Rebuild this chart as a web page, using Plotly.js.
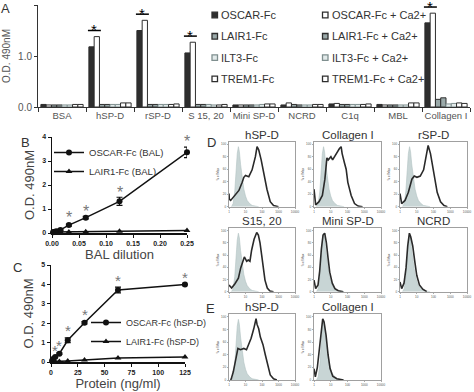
<!DOCTYPE html>
<html><head><meta charset="utf-8">
<script src="https://cdn.plot.ly/plotly-3.0.1.min.js"></script>
<style>html,body{margin:0;padding:0;background:#fff}#plot{width:474px;height:392px}</style>
</head><body><div id="plot"></div>
<script>
// ---------------- Panel A data ----------------
const categories = ['BSA','hSP-D','rSP-D','S 15, 20','Mini SP-D','NCRD','C1q','MBL','Collagen I'];
const oscarFc   = [0.05, 1.18, 1.50, 1.06, 0.04, 0.04, 0.06, 0.05, 1.65];
const oscarFcCa = [0.04, 1.38, 1.70, 1.27, 0.04, 0.08, 0.07, 0.04, 1.84];
const lair1Fc   = [0.04, 0.05, 0.05, 0.05, 0.04, 0.05, 0.05, 0.04, 0.15];
const lair1FcCa = [0.04, 0.05, 0.05, 0.05, 0.04, 0.04, 0.05, 0.04, 0.18];
const ilt3Fc    = [0.04, 0.05, 0.05, 0.05, 0.04, 0.04, 0.05, 0.04, 0.06];
const ilt3FcCa  = [0.04, 0.05, 0.05, 0.04, 0.05, 0.04, 0.05, 0.04, 0.07];
const trem1Fc   = [0.05, 0.08, 0.05, 0.04, 0.06, 0.05, 0.05, 0.08, 0.08];
const trem1FcCa = [0.05, 0.08, 0.06, 0.05, 0.06, 0.05, 0.06, 0.08, 0.07];
const seriesNames = ['OSCAR-Fc','OSCAR-Fc + Ca2+','LAIR1-Fc','LAIR1-Fc + Ca2+','ILT3-Fc','ILT3-Fc + Ca2+','TREM1-Fc','TREM1-Fc + Ca2+'];
const seriesValues = [oscarFc, oscarFcCa, lair1Fc, lair1FcCa, ilt3Fc, ilt3FcCa, trem1Fc, trem1FcCa];
const sigCategories = ['hSP-D','rSP-D','S 15, 20','Collagen I'];

// ---------------- Panel B data ----------------
const balDilution = [0.00195, 0.0039, 0.0078, 0.0156, 0.03125, 0.0625, 0.125, 0.25];
const oscarBal    = [0.03, 0.04, 0.07, 0.13, 0.33, 0.64, 1.32, 3.36];
const oscarBalErr = [0.02, 0.02, 0.02, 0.03, 0.04, 0.05, 0.17, 0.22];
const lair1Bal    = [0.04, 0.04, 0.04, 0.04, 0.04, 0.05, 0.07, 0.10];
const balSigX = [0.03125, 0.0625, 0.125, 0.25];
const balSigY = [0.81, 1.08, 1.85, 3.97];

// ---------------- Panel C data ----------------
const protein      = [0.98, 1.95, 3.9, 7.8, 15.6, 31.25, 62.5, 125];
const oscarHspd    = [0.07, 0.15, 0.26, 0.43, 1.12, 2.02, 3.71, 4.00];
const oscarHspdErr = [0.02, 0.02, 0.03, 0.04, 0.12, 0.06, 0.15, 0.06];
const lair1Hspd    = [0.02, 0.02, 0.02, 0.03, 0.05, 0.10, 0.20, 0.26];
const protSigX = [3.9, 7.8, 15.6, 31.25, 62.5, 125];
const protSigY = [0.78, 1.07, 1.81, 2.68, 4.40, 4.58];

// ---------------- Panels D/E data (log10 fluorescence, % of max) ----------------
const histTitles = ['hSP-D','Collagen I','rSP-D','S15, 20','Mini SP-D','NCRD','hSP-D','Collagen I'];
const ctrlLog = [0.15, 0.25, 0.35, 0.42, 0.50, 0.57, 0.63, 0.70, 0.80, 0.90, 1.00, 1.10, 1.25, 1.40, 1.60, 1.80];
const ctrlPct = [0, 5, 25, 55, 85, 96, 88, 68, 45, 28, 17, 10, 5, 2, 1, 0];
const dHspdLog = [0, 0.02, 0.1, 0.3, 0.6, 0.8, 0.9, 1.0, 1.1, 1.2, 1.4, 1.6, 1.7, 1.75, 1.8, 1.95, 2.1, 2.3, 2.5, 2.7, 3.0];
const dHspdPct = [21, 12, 10, 16, 26, 39, 47, 50, 49, 48, 59, 80, 96, 92, 91, 75, 54, 28, 8, 2, 0];
const dCollLog = [0, 0.1, 0.3, 0.5, 0.65, 0.77, 0.85, 1.01, 1.11, 1.31, 1.52, 1.62, 1.68, 1.82, 1.92, 2.02, 2.22, 2.42, 2.63, 2.9];
const dCollPct = [28, 3, 8, 18, 44, 78, 75, 80, 75, 85, 93, 96, 85, 70, 60, 39, 18, 5, 1, 0];
const dRspdLog = [0, 0.1, 0.3, 0.5, 0.71, 0.85, 1.01, 1.21, 1.41, 1.56, 1.68, 1.82, 1.92, 2.02, 2.22, 2.42, 2.63, 2.83];
const dRspdPct = [21, 5, 10, 23, 44, 49, 47, 49, 59, 80, 98, 85, 70, 49, 23, 8, 2, 0];
const dS1520Log = [0, 0.16, 0.36, 0.57, 0.71, 0.87, 0.93, 1.07, 1.17, 1.27, 1.37, 1.52, 1.68, 1.78, 1.88, 1.98, 2.08, 2.18, 2.32, 2.48, 2.7];
const dS1520Pct = [11, 6, 13, 22, 39, 55, 57, 50, 52, 50, 68, 86, 97, 93, 80, 60, 39, 19, 6, 1, 0];
const dMiniLog = [0, 0.1, 0.24, 0.34, 0.44, 0.54, 0.64, 0.74, 0.84, 0.94, 1.09, 1.25, 1.45, 1.75];
const dMiniPct = [19, 5, 11, 34, 70, 93, 96, 80, 55, 32, 14, 5, 1.5, 0];
const dNcrdLog = [0, 0.1, 0.24, 0.36, 0.46, 0.56, 0.64, 0.76, 0.88, 1.0, 1.16, 1.36, 1.6];
const dNcrdPct = [16, 5, 14, 39, 75, 96, 90, 75, 50, 27, 11, 4, 0];
const eHspdLog = [0.1, 0.14, 0.26, 0.4, 0.54, 0.7, 0.9, 1.06, 1.2, 1.34, 1.5, 1.64, 1.7, 1.8, 1.9, 2.06, 2.2, 2.34, 2.5, 2.7, 2.9];
const eHspdPct = [0, 2, 13, 35, 50, 48, 50, 48, 56, 66, 81, 97, 88, 81, 68, 56, 40, 25, 8, 2, 0];
const eCollLog = [0, 0.08, 0.2, 0.32, 0.44, 0.52, 0.6, 0.72, 0.84, 0.96, 1.12, 1.36, 1.76];
const eCollPct = [18, 5, 20, 50, 86, 97, 92, 71, 40, 18, 6, 2, 0];
const histLog = [dHspdLog, dCollLog, dRspdLog, dS1520Log, dMiniLog, dNcrdLog, eHspdLog, eCollLog];
const histPct = [dHspdPct, dCollPct, dRspdPct, dS1520Pct, dMiniPct, dNcrdPct, eHspdPct, eCollPct];

// ---------------- styling / layout ----------------
const W = 474, H = 392;
const px = p => p / W, py = p => 1 - p / H;
const FONT = 'Liberation Sans, Arial, sans-serif';
const seriesFill = ['#2e2e2e','#ffffff','#9aa9a9','#9aa9a9','#e2eaea','#e2eaea','#ffffff','#ffffff'];
const seriesLine = ['#2e2e2e','#2e2e2e','#2e2e2e','#2e2e2e','#7f8f8f','#7f8f8f','#2e2e2e','#2e2e2e'];
const BARGAP = 0.12;

const traces = [];
const shapes = [];
const annotations = [];

seriesValues.forEach((vals, i) => {
  traces.push({type:'bar', x:categories, y:vals, name:seriesNames[i], xaxis:'x', yaxis:'y',
    marker:{color:seriesFill[i], line:{color:seriesLine[i], width:1}}, showlegend:false});
  // manual legend (two columns)
  const col = i % 2, row = Math.floor(i / 2);
  const bx = col === 0 ? 212 : 322.5, byc = 15 + row * 21.3;
  shapes.push({type:'rect', xref:'paper', yref:'paper', x0:px(bx), x1:px(bx+5.5), y0:py(byc+2.8), y1:py(byc-2.8),
    fillcolor:seriesFill[i], line:{color:seriesLine[i], width:1.3}});
  annotations.push({xref:'paper', yref:'paper', x:px(bx+7), y:py(byc), xanchor:'left', yanchor:'middle',
    text:seriesNames[i], showarrow:false, font:{family:FONT, size:11, color:'#333'}});
});

// significance brackets in panel A
const barW = (1 - BARGAP) / seriesValues.length;
sigCategories.forEach(cat => {
  const idx = categories.indexOf(cat);
  const left = idx - (1 - BARGAP) / 2;
  const top = Math.max(oscarFc[idx], oscarFcCa[idx]) + 0.12;
  shapes.push({type:'line', xref:'x', yref:'y', x0:left - 0.02, x1:left + 2 * barW + 0.03, y0:top, y1:top,
    line:{color:'#000000', width:1.5}});
  annotations.push({xref:'x', yref:'y', x:left + barW, y:top, yanchor:'middle', yshift:1, text:'*',
    showarrow:false, font:{family:FONT, size:15, color:'#000000'}});
});

// panel B
traces.push({type:'scatter', mode:'lines+markers', x:balDilution, y:oscarBal, name:'OSCAR-Fc (BAL)', xaxis:'x2', yaxis:'y2',
  legend:'legend3', cliponaxis:false, line:{color:'#111', width:1.5}, marker:{symbol:'circle', size:6, color:'#111'},
  error_y:{type:'data', array:oscarBalErr, color:'#111', thickness:1.2, width:3}});
traces.push({type:'scatter', mode:'lines+markers', x:balDilution, y:lair1Bal, name:'LAIR1-Fc (BAL)', xaxis:'x2', yaxis:'y2',
  legend:'legend3', cliponaxis:false, line:{color:'#111', width:1.5}, marker:{symbol:'triangle-up', size:6, color:'#111'}});
balSigX.forEach((x, i) => annotations.push({xref:'x2', yref:'y2', x:x, y:balSigY[i], yshift:-4, text:'*', showarrow:false,
  font:{family:FONT, size:16, color:'#777'}}));

// panel C
traces.push({type:'scatter', mode:'lines+markers', x:protein, y:oscarHspd, name:'OSCAR-Fc (hSP-D)', xaxis:'x3', yaxis:'y3',
  legend:'legend4', cliponaxis:false, line:{color:'#111', width:1.5}, marker:{symbol:'circle', size:6, color:'#111'},
  error_y:{type:'data', array:oscarHspdErr, color:'#111', thickness:1.2, width:3}});
traces.push({type:'scatter', mode:'lines+markers', x:protein, y:lair1Hspd, name:'LAIR1-Fc (hSP-D)', xaxis:'x3', yaxis:'y3',
  legend:'legend4', cliponaxis:false, line:{color:'#111', width:1.5}, marker:{symbol:'triangle-up', size:6, color:'#111'}});
protSigX.forEach((x, i) => annotations.push({xref:'x3', yref:'y3', x:x, y:protSigY[i], yshift:-4, text:'*', showarrow:false,
  font:{family:FONT, size:15, color:'#777'}}));

const layout = {
  width:W, height:H, margin:{l:0, r:0, t:0, b:0}, paper_bgcolor:'#fff', plot_bgcolor:'rgba(0,0,0,0)',
  font:{family:FONT, color:'#333'}, barmode:'group', bargap:BARGAP, bargroupgap:0, showlegend:true,
  xaxis:{domain:[px(38), px(470)], anchor:'y', type:'category', tickson:'boundaries', ticks:'outside', ticklen:4,
    tickangle:0, tickcolor:'#333', showline:true, linecolor:'#333', linewidth:1, showgrid:false,
    tickfont:{family:FONT, size:9.5, color:'#555'}},
  yaxis:{domain:[py(107), py(5)], anchor:'x', range:[0, 2], dtick:1, tickformat:'.1f', ticks:'outside', ticklen:3,
    tickcolor:'#333', showline:true, linecolor:'#333', linewidth:1, showgrid:false, zeroline:false,
    tickfont:{family:FONT, size:10, color:'#555'},
    title:{text:'O.D. 490nM', font:{family:FONT, size:10, color:'#555'}, standoff:5}},
  xaxis2:{domain:[px(52), px(187)], anchor:'y2', range:[0, 0.25], dtick:0.05, tickformat:'.2f', ticks:'outside', ticklen:3,
    tickcolor:'#111', showline:true, linecolor:'#111', linewidth:1.5, showgrid:false, zeroline:false,
    tickfont:{family:FONT, size:7, color:'#222', weight:'bold'},
    title:{text:'BAL dilution', font:{family:FONT, size:13, color:'#444'}, standoff:2}},
  yaxis2:{domain:[py(233), py(137)], anchor:'x2', range:[0, 4], dtick:1, ticks:'outside', ticklen:3,
    tickcolor:'#111', showline:true, linecolor:'#111', linewidth:1.5, showgrid:false, zeroline:false,
    tickfont:{family:FONT, size:7, color:'#222', weight:'bold'},
    title:{text:'O.D. 490nM', font:{family:FONT, size:13, color:'#444'}, standoff:4}},
  xaxis3:{domain:[px(51), px(185)], anchor:'y3', range:[0, 125], dtick:25, ticks:'outside', ticklen:3,
    tickcolor:'#111', showline:true, linecolor:'#111', linewidth:1.5, showgrid:false, zeroline:false,
    tickfont:{family:FONT, size:7, color:'#222', weight:'bold'},
    title:{text:'Protein (ng/ml)', font:{family:FONT, size:13, color:'#444'}, standoff:2}},
  yaxis3:{domain:[py(362), py(265)], anchor:'x3', range:[0, 5], dtick:1, ticks:'outside', ticklen:3,
    tickcolor:'#111', showline:true, linecolor:'#111', linewidth:1.5, showgrid:false, zeroline:false,
    tickfont:{family:FONT, size:7, color:'#222', weight:'bold'},
    title:{text:'O.D. 490nM', font:{family:FONT, size:13, color:'#444'}, standoff:4}},
  legend3:{x:px(49), y:py(138), xanchor:'left', yanchor:'top', bgcolor:'rgba(0,0,0,0)', borderwidth:0,
    font:{family:FONT, size:9.5, color:'#333'}, itemwidth:30, tracegroupgap:0},
  legend4:{x:px(86), y:py(308), xanchor:'left', yanchor:'top', bgcolor:'rgba(0,0,0,0)', borderwidth:0,
    font:{family:FONT, size:9, color:'#333'}, itemwidth:30, tracegroupgap:0},
  shapes:shapes, annotations:annotations
};

// histogram panels
const histCols = [[229, 295], [314, 381], [400, 467]];
const histRows = [[141.7, 206.7], [228.3, 291.7], [314.3, 380]];
const histGrid = [[0,0],[0,1],[0,2],[1,0],[1,1],[1,2],[2,0],[2,1]];
histTitles.forEach((t, i) => {
  const n = i + 4, xa = 'x' + n, ya = 'y' + n;
  const [r, c] = histGrid[i];
  layout['xaxis' + n] = {domain:[px(histCols[c][0]), px(histCols[c][1])], anchor:ya, type:'log', range:[0, 4],
    tickvals:[1, 10, 100, 1000, 10000], ticktext:['1','10','100','1000','10000'], ticks:'outside', ticklen:1.5,
    tickcolor:'#777', tickwidth:0.6, showline:true, mirror:true, linecolor:'#888', linewidth:0.8, showgrid:false,
    zeroline:false, tickfont:{family:FONT, size:3, color:'#555'}};
  layout['yaxis' + n] = {domain:[py(histRows[r][1]), py(histRows[r][0])], anchor:xa, range:[0, 104],
    tickvals:[0, 20, 40, 60, 80, 100], ticks:'outside', ticklen:1.5, tickcolor:'#777', tickwidth:0.6,
    showline:true, mirror:true, linecolor:'#888', linewidth:0.8, showgrid:false, zeroline:false,
    tickfont:{family:FONT, size:3, color:'#555'},
    title:{text:'% of Max', font:{family:FONT, size:3, color:'#555'}, standoff:1}};
  traces.push({type:'scatter', mode:'lines', x:ctrlLog.map(v => Math.pow(10, v)), y:ctrlPct, xaxis:xa, yaxis:ya,
    fill:'tozeroy', fillcolor:'#c8d5d5', line:{color:'#b2c2c2', width:0.6}, showlegend:false, hoverinfo:'skip'});
  traces.push({type:'scatter', mode:'lines', x:histLog[i].map(v => Math.pow(10, v)), y:histPct[i], xaxis:xa, yaxis:ya,
    line:{color:'#2a2a2a', width:1.6}, showlegend:false});
  annotations.push({xref:xa + ' domain', yref:ya + ' domain', x:0.5, y:1, xanchor:'center', yanchor:'bottom', yshift:-1,
    text:t, showarrow:false, font:{family:FONT, size:11.5, color:'#333'}});
});

// panel letters
[['A', 5, 8], ['B', 25, 142], ['C', 17, 267], ['D', 211, 142], ['E', 210, 308]].forEach(([t, x, y]) =>
  annotations.push({xref:'paper', yref:'paper', x:px(x), y:py(y), xanchor:'center', yanchor:'middle', text:t,
    showarrow:false, font:{family:FONT, size:13, color:'#333'}}));

Plotly.newPlot('plot', traces, layout, {displayModeBar:false, staticPlot:true});
</script></body></html>
